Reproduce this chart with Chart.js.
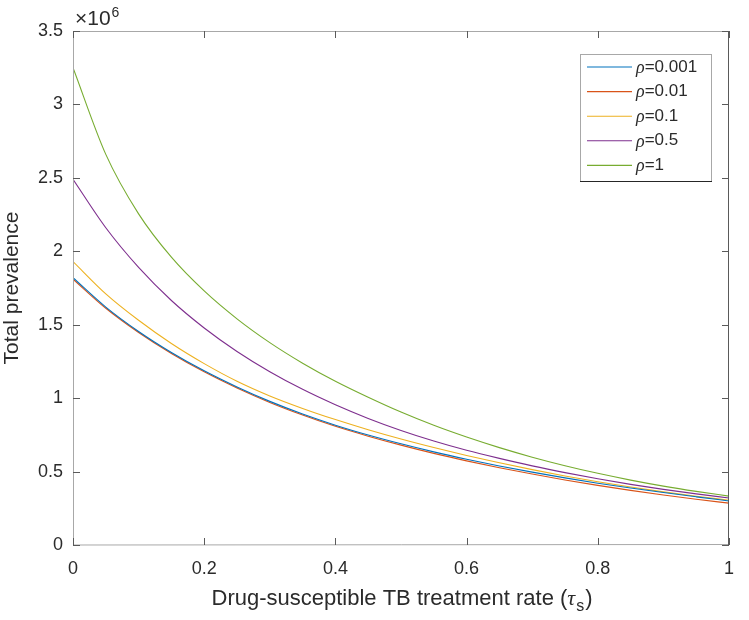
<!DOCTYPE html>
<html>
<head>
<meta charset="utf-8">
<script src="https://cdn.jsdelivr.net/npm/chart.js@4.4.1/dist/chart.umd.min.js"></script>
<style>
  html, body { margin: 0; padding: 0; background: #fff; }
  #wrap { width: 749px; height: 620px; }
</style>
</head>
<body>
<div id="wrap"><canvas id="prevChart" width="749" height="620"></canvas></div>
<script>
// treatment rate (tau_s) sample points
const tauS = [0, 0.05, 0.1, 0.15, 0.2, 0.25, 0.3, 0.35, 0.4, 0.45, 0.5,
              0.55, 0.6, 0.65, 0.7, 0.75, 0.8, 0.85, 0.9, 0.95, 1.0];

// total prevalence, in units of 10^6
const rho0001 = [1.82, 1.62, 1.454, 1.311, 1.186, 1.076, 0.978, 0.892, 0.816, 0.749, 0.689,
                 0.634, 0.584, 0.538, 0.496, 0.457, 0.421, 0.388, 0.357, 0.328, 0.30];
const rho001  = [1.81, 1.612, 1.447, 1.304, 1.179, 1.069, 0.971, 0.885, 0.808, 0.741, 0.68,
                 0.624, 0.573, 0.526, 0.483, 0.443, 0.406, 0.372, 0.34, 0.311, 0.285];
const rho01   = [1.93, 1.71, 1.53, 1.372, 1.235, 1.115, 1.015, 0.93, 0.854, 0.785, 0.722,
                 0.664, 0.61, 0.56, 0.513, 0.47, 0.431, 0.395, 0.362, 0.332, 0.305];
const rho05   = [2.49, 2.16, 1.89, 1.665, 1.478, 1.318, 1.18, 1.06, 0.955, 0.862, 0.78,
                 0.708, 0.645, 0.59, 0.539, 0.493, 0.451, 0.413, 0.379, 0.348, 0.32];
const rho1    = [3.25, 2.66, 2.255, 1.96, 1.73, 1.54, 1.378, 1.238, 1.115, 1.006, 0.905,
                 0.815, 0.735, 0.663, 0.598, 0.54, 0.488, 0.442, 0.401, 0.365, 0.333];

const seriesLabels = ['0.001', '0.01', '0.1', '0.5', '1'];
const seriesData = [rho0001, rho001, rho01, rho05, rho1];
const seriesColors = ['#0072BD', '#D95319', '#EDB120', '#7E2F8E', '#77AC30'];

const xTicks = [0, 0.2, 0.4, 0.6, 0.8, 1];
const yTicks = [0, 0.5, 1, 1.5, 2, 2.5, 3, 3.5];

const textColor = '#2b2b2b';
const font = 'Liberation Sans, Arial, sans-serif';

// box, inward ticks, x title, exponent and legend
const axesDecor = {
    id: 'axesDecor',
    afterDatasetsDraw(chart) {
        const ctx = chart.ctx;
        const a = chart.chartArea;
        const xs = chart.scales.x, ys = chart.scales.y;
        ctx.save();
        ctx.lineWidth = 1;

        // box
        ctx.strokeStyle = '#a8a8a8';
        ctx.beginPath();
        ctx.moveTo(a.left + 0.5, a.top + 0.5);
        ctx.lineTo(a.right - 0.5, a.top + 0.5);
        ctx.moveTo(a.left + 0.5, a.top);
        ctx.lineTo(a.left + 0.5, a.bottom);
        ctx.lineTo(a.right, a.bottom - 0.5);
        ctx.stroke();
        ctx.strokeStyle = '#5a5a5a';
        ctx.beginPath();
        ctx.moveTo(a.right - 0.5, a.top);
        ctx.lineTo(a.right - 0.5, a.bottom);
        ctx.stroke();

        // inward ticks
        ctx.strokeStyle = '#5a5a5a';
        ctx.beginPath();
        xTicks.forEach(v => {
            const px = Math.round(xs.getPixelForValue(v)) + 0.5;
            ctx.moveTo(px, a.bottom); ctx.lineTo(px, a.bottom - 7);
            ctx.moveTo(px, a.top); ctx.lineTo(px, a.top + 7);
        });
        yTicks.forEach(v => {
            const py = Math.round(ys.getPixelForValue(v)) + 0.5;
            ctx.moveTo(a.left, py); ctx.lineTo(a.left + 7, py);
            ctx.moveTo(a.right, py); ctx.lineTo(a.right - 7, py);
        });
        ctx.stroke();

        // x axis title with subscript
        ctx.fillStyle = textColor;
        ctx.textBaseline = 'alphabetic';
        const t1 = 'Drug-susceptible TB treatment rate (';
        ctx.font = '22px ' + font;
        const w1 = ctx.measureText(t1).width;
        ctx.font = 'italic 22px Liberation Serif, serif';
        const wt = ctx.measureText('\u03C4').width;
        ctx.font = '16px ' + font;
        const ws = ctx.measureText('s').width;
        ctx.font = '22px ' + font;
        const wc = ctx.measureText(')').width;
        let x0 = (a.left + a.right) / 2 - (w1 + wt + ws + wc) / 2;
        const by = 605;
        ctx.textAlign = 'left';
        ctx.fillText(t1, x0, by); x0 += w1;
        ctx.font = 'italic 22px Liberation Serif, serif';
        ctx.fillText('\u03C4', x0, by); x0 += wt + 1;
        ctx.font = '16px ' + font;
        ctx.fillText('s', x0, by + 6); x0 += ws + 1;
        ctx.font = '22px ' + font;
        ctx.fillText(')', x0, by);

        // exponent
        ctx.font = '21px ' + font;
        ctx.fillText('\u00D710', a.left + 2, 25);
        const we = ctx.measureText('\u00D710').width;
        ctx.font = '14px ' + font;
        ctx.fillText('6', a.left + 2 + we + 1, 17);

        // legend
        const lx = 580, ly = 54, lw = 131, lh = 127;
        ctx.fillStyle = '#fff';
        ctx.fillRect(lx, ly, lw, lh);
        ctx.strokeStyle = '#a8a8a8';
        ctx.strokeRect(lx + 0.5, ly + 0.5, lw, lh);
        ctx.strokeStyle = '#262626';
        ctx.beginPath();
        ctx.moveTo(lx, ly + lh + 0.5); ctx.lineTo(lx + lw + 1, ly + lh + 0.5);
        ctx.stroke();
        seriesLabels.forEach((lab, i) => {
            const ry = ly + 13 + i * 24.6;
            ctx.strokeStyle = seriesColors[i];
            ctx.lineWidth = 1.1;
            ctx.beginPath();
            ctx.moveTo(lx + 7, ry); ctx.lineTo(lx + 52, ry);
            ctx.stroke();
            ctx.fillStyle = textColor;
            ctx.textBaseline = 'middle';
            ctx.font = 'italic 18px Liberation Serif, serif';
            ctx.fillText('\u03C1', lx + 56, ry + 1);
            const wr = ctx.measureText('\u03C1').width;
            ctx.font = '17px ' + font;
            ctx.fillText('=' + lab, lx + 56 + wr, ry);
        });
        ctx.restore();
    }
};

const datasets = seriesData.map((vals, i) => ({
    label: '\u03C1=' + seriesLabels[i],
    data: tauS.map((t, j) => ({ x: t, y: vals[j] })),
    borderColor: seriesColors[i],
    borderWidth: 1.1,
    pointRadius: 0,
    fill: false,
    cubicInterpolationMode: 'monotone'
}));

new Chart(document.getElementById('prevChart'), {
    type: 'line',
    data: { datasets: datasets },
    options: {
        responsive: false,
        animation: false,
        layout: { padding: { left: 0, top: 31, right: 20, bottom: 0 } },
        plugins: { legend: { display: false }, tooltip: { enabled: false } },
        scales: {
            x: {
                type: 'linear',
                min: 0, max: 1,
                afterFit: s => { s.height = 75; },
                afterBuildTicks: s => { s.ticks = xTicks.map(v => ({ value: v })); },
                grid: { display: false, drawTicks: false },
                border: { display: false },
                ticks: {
                    padding: 13,
                    color: textColor,
                    font: { family: font, size: 18 },
                    callback: v => String(v)
                }
            },
            y: {
                type: 'linear',
                min: 0, max: 3.5,
                afterFit: s => { s.width = 73; },
                afterBuildTicks: s => { s.ticks = yTicks.map(v => ({ value: v })); },
                grid: { display: false, drawTicks: false },
                border: { display: false },
                title: {
                    display: true,
                    text: 'Total prevalence',
                    color: textColor,
                    font: { family: font, size: 21 },
                    padding: { top: 0, bottom: 0 }
                },
                ticks: {
                    padding: 10,
                    color: textColor,
                    font: { family: font, size: 18 },
                    callback: v => String(v)
                }
            }
        }
    },
    plugins: [axesDecor]
});
</script>
</body>
</html>
